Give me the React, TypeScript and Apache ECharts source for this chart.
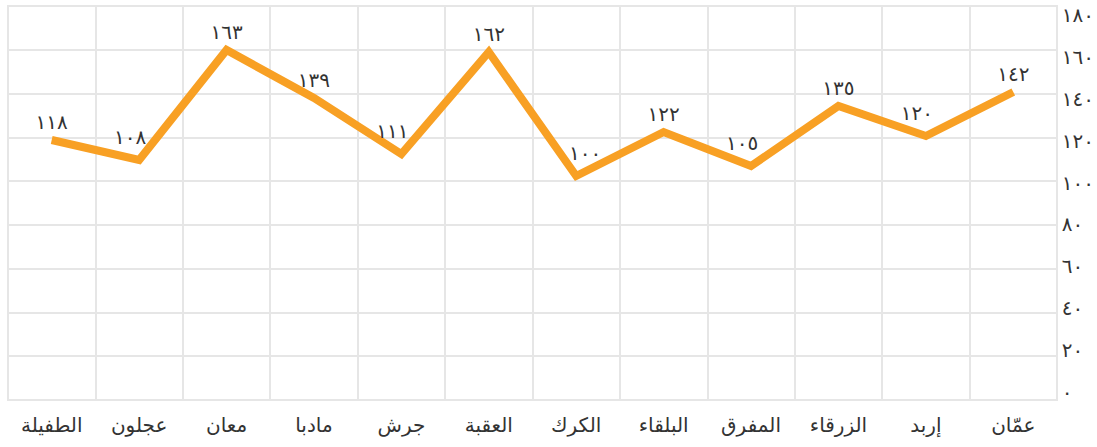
import React, { useEffect, useRef } from "react";
import * as echarts from "echarts";

const categories = ["عمّان", "إربد", "الزرقاء", "المفرق", "البلقاء", "الكرك", "العقبة", "جرش", "مادبا", "معان", "عجلون", "الطفيلة"];
const values = [142, 120, 135, 105, 122, 100, 162, 111, 139, 163, 108, 118];
const yMin = 0;
const yMax = 180;
const yStep = 20;

const toArabicDigits = (n: number | string) =>
  String(n).replace(/[0-9]/g, (d) => "٠١٢٣٤٥٦٧٨٩"[Number(d)]);

const FONT = "'DejaVu Sans', sans-serif";

export default function App() {
  const ref = useRef<HTMLDivElement>(null);
  useEffect(() => {
    document.body.style.margin = "0";
    if (!ref.current) return;
    const chart = echarts.init(ref.current, null, { renderer: "svg" });
    const gridColor = "#e6e6e6";
    // valleys (local minima): lift the label and nudge it toward the gentler side
    // (axis is inverse, so the previous item is on the screen's right)
    const seriesData = values.map((v, i) => {
      const prev = i > 0 ? values[i - 1] : Infinity;
      const next = i < values.length - 1 ? values[i + 1] : Infinity;
      const valley = v < prev && v < next;
      if (!valley) return { value: v };
      const dir = prev - v < next - v ? 1 : -1;
      return { value: v, label: { distance: 13, offset: [dir * 9, 0] } };
    });
    chart.setOption({
      animation: false,
      grid: [
        { left: 8, right: 40, top: 6, bottom: 47, show: true, borderColor: gridColor, borderWidth: 2 },
        { left: 8, right: 40, top: 16, bottom: 71 },
        { left: 8, right: 40, top: 15, bottom: 55 },
      ],
      xAxis: [
        {
          type: "category",
          gridIndex: 0,
          data: categories,
          inverse: true,
          boundaryGap: true,
          axisLine: { show: false },
          axisTick: { show: false },
          splitLine: { show: true, lineStyle: { color: gridColor, width: 2 } },
          axisLabel: { color: "#333", fontSize: 20, fontFamily: FONT, margin: 15, interval: 0 },
        },
        {
          type: "category",
          gridIndex: 1,
          data: categories,
          inverse: true,
          boundaryGap: true,
          show: false,
        },
        {
          type: "category",
          gridIndex: 2,
          data: categories,
          inverse: true,
          show: false,
        },
      ],
      yAxis: [
        {
          type: "value",
          gridIndex: 0,
          min: yMin,
          max: yMax,
          interval: yStep,
          axisLine: { show: false },
          axisTick: { show: false },
          axisLabel: { show: false },
          splitLine: { show: true, lineStyle: { color: gridColor, width: 2 } },
        },
        {
          type: "value",
          gridIndex: 1,
          min: yMin,
          max: yMax,
          show: false,
          splitLine: { show: false },
        },
        {
          type: "value",
          gridIndex: 2,
          position: "right",
          min: yMin,
          max: yMax,
          interval: yStep,
          axisLine: { show: false },
          axisTick: { show: false },
          splitLine: { show: false },
          axisLabel: {
            color: "#333",
            fontSize: 20,
            fontFamily: FONT,
            margin: 8,
            align: "left",
            formatter: (v: number) => toArabicDigits(v),
          },
        },
      ],
      series: [
        {
          type: "line",
          xAxisIndex: 1,
          yAxisIndex: 1,
          data: seriesData,
          symbol: "circle",
          symbolSize: 0,
          showSymbol: true,
          lineStyle: { color: "#F8A024", width: 8, join: "miter" },
          itemStyle: { color: "#F8A024" },
          label: {
            show: true,
            position: "top",
            distance: 8,
            color: "#333",
            fontSize: 20,
            fontFamily: FONT,
            formatter: (p: any) => toArabicDigits(p.value),
          },
        },
      ],
    });
    return () => chart.dispose();
  }, []);
  return <div ref={ref} style={{ width: 1097, height: 447 }} />;
}
